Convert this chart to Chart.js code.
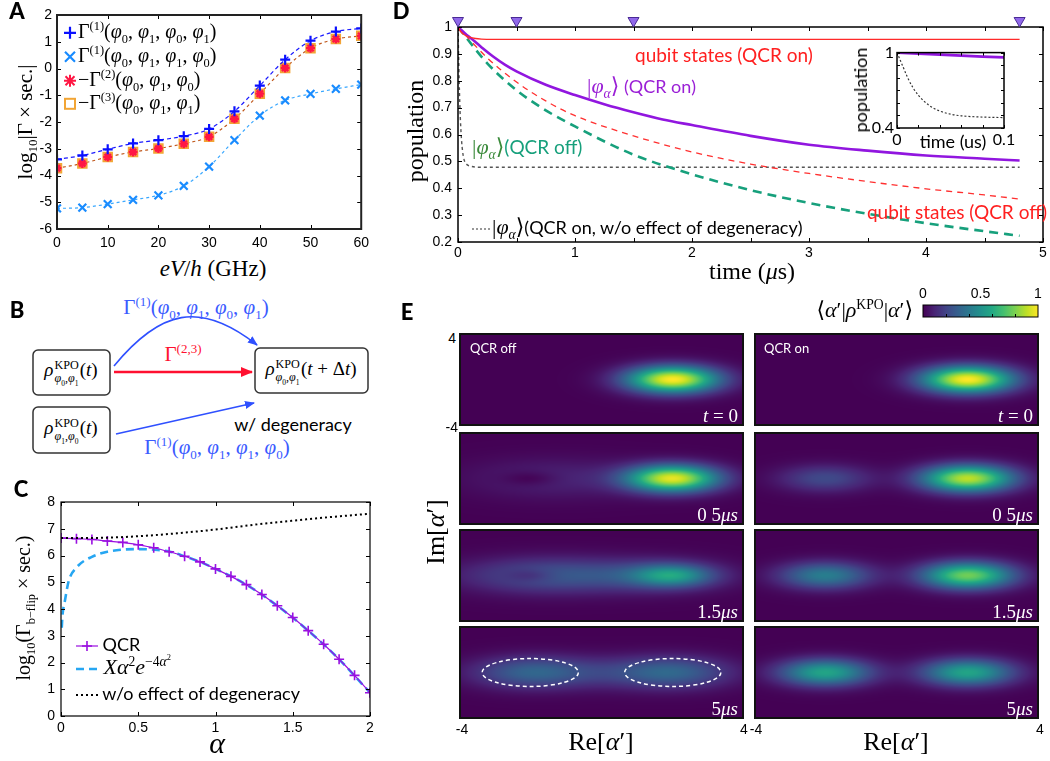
<!DOCTYPE html>
<html>
<head>
<meta charset="utf-8">
<script src="https://cdn.jsdelivr.net/npm/chart.js@4.4.0/dist/chart.umd.min.js"></script>
<style>
body { margin: 0; background: #fff; }
#fig { position: relative; width: 1050px; height: 761px; overflow: hidden; background: #fff; }
canvas { position: absolute; }
.t { position: absolute; white-space: nowrap; line-height: 1; }
.mth { font-family: 'Liberation Serif', 'DejaVu Serif', serif; }
.sans { font-family: Lato, 'Open Sans', sans-serif; }
.arial { font-family: 'Liberation Sans', Arial, sans-serif; font-size: 14px; }
.letter { font-family: Lato, sans-serif; font-weight: 900; font-size: 22px; }
sub, sup { font-size: 0.62em; line-height: 0; }
.ss { display: inline-flex; flex-direction: column; vertical-align: middle; font-size: 0.64em; line-height: 1.05; margin: 0 1px; }
</style>
</head>
<body>
<div id="fig">
  <svg id="diagB" width="420" height="180" style="position:absolute;left:0;top:290px">
    <defs>
      <marker id="hb" markerWidth="10" markerHeight="8" refX="9" refY="4" orient="auto" markerUnits="userSpaceOnUse">
        <path d="M0,0 L10,4 L0,8 z" fill="#2f50ff"/>
      </marker>
      <marker id="hr" markerWidth="12" markerHeight="10" refX="11" refY="5" orient="auto" markerUnits="userSpaceOnUse">
        <path d="M0,0 L12,5 L0,10 z" fill="#ff1030"/>
      </marker>
    </defs>
    <rect x="33" y="60" width="77" height="45" rx="5" fill="none" stroke="#333" stroke-width="1.5"/>
    <rect x="33" y="117" width="77" height="46" rx="5" fill="none" stroke="#333" stroke-width="1.5"/>
    <rect x="255" y="58" width="113" height="45" rx="5" fill="none" stroke="#333" stroke-width="1.5"/>
    <path d="M114,76 C160,20 200,10 257,55" fill="none" stroke="#2f50ff" stroke-width="1.6" marker-end="url(#hb)"/>
    <path d="M114,82 L252,82" fill="none" stroke="#ff1030" stroke-width="2.5" marker-end="url(#hr)"/>
    <path d="M116,144 L254,113" fill="none" stroke="#2f50ff" stroke-width="1.6" marker-end="url(#hb)"/>
  </svg>
</div>
<script>
// ---------- panel A : rates vs bias ----------
const biasGHz   = [0, 5, 10, 15, 20, 25, 30, 35, 40, 45, 50, 55, 60];
const gamma1Dir = [-3.40, -3.25, -3.02, -2.80, -2.68, -2.53, -2.26, -1.60, -0.64, 0.33, 1.04, 1.38, 1.50];
const gamma1Swp = [-5.23, -5.20, -5.07, -4.91, -4.74, -4.39, -3.67, -2.68, -1.76, -1.19, -0.95, -0.76, -0.60];
const negGamma2 = [-3.73, -3.55, -3.31, -3.12, -2.99, -2.81, -2.55, -1.88, -0.94, 0.02, 0.76, 1.10, 1.22];
const negGamma3 = [-3.73, -3.55, -3.31, -3.12, -2.99, -2.81, -2.55, -1.88, -0.94, 0.02, 0.76, 1.10, 1.22];

// ---------- panel C : bit-flip rate vs alpha ----------
const alphaQCR = [0, 0.1, 0.2, 0.3, 0.4, 0.5, 0.6, 0.7, 0.8, 0.9, 1.0, 1.1, 1.2, 1.3, 1.4, 1.5, 1.6, 1.7, 1.8, 1.9, 2.0];
const flipQCR  = [6.65, 6.63, 6.60, 6.54, 6.49, 6.40, 6.29, 6.14, 5.97, 5.76, 5.50, 5.22, 4.91, 4.54, 4.12, 3.68, 3.19, 2.68, 2.12, 1.52, 0.87];
const alphaFit = [0.005, 0.01, 0.022, 0.05, 0.1, 0.2, 0.3, 0.4, 0.5, 0.6, 0.7, 0.8, 0.9, 1.0, 1.2, 1.4, 1.6, 1.8, 2.0];
const flipFit  = [3.3, 3.8, 4.2, 5.05, 5.55, 5.95, 6.14, 6.22, 6.24, 6.22, 6.15, 5.97, 5.76, 5.50, 4.91, 4.12, 3.19, 2.12, 0.87];
const alphaNoDeg = [0, 0.25, 0.5, 0.75, 1.0, 1.25, 1.5, 1.75, 2.0];
const flipNoDeg  = [6.65, 6.66, 6.72, 6.83, 6.97, 7.15, 7.30, 7.44, 7.56];

// ---------- panel D : populations vs time ----------
const tQubitOn   = [0, 0.02, 0.05, 0.1, 0.15, 0.2, 0.3, 4.8];
const popQubitOn = [1, 0.985, 0.972, 0.962, 0.957, 0.955, 0.954, 0.954];
const tPhiOn   = [0, 0.02, 0.04, 0.06, 0.08, 0.1, 0.2, 0.3, 0.4, 0.5, 0.75, 1, 1.25, 1.5, 1.75, 2, 2.5, 3, 3.5, 4, 4.5, 4.8];
const popPhiOn = [1, 0.992, 0.984, 0.976, 0.968, 0.962, 0.925, 0.89, 0.86, 0.835, 0.785, 0.747, 0.713, 0.683, 0.656, 0.635, 0.595, 0.562, 0.54, 0.522, 0.51, 0.503];
const tOff        = [0, 0.25, 0.5, 0.75, 1, 1.5, 2, 2.5, 3, 3.5, 4, 4.5, 4.8];
const popQubitOff = [1, 0.885, 0.795, 0.725, 0.67, 0.595, 0.535, 0.49, 0.455, 0.425, 0.398, 0.375, 0.36];
const popPhiOff   = [1, 0.865, 0.765, 0.69, 0.63, 0.525, 0.452, 0.393, 0.345, 0.305, 0.27, 0.24, 0.223];
const tNoDeg   = [0, 0.005, 0.01, 0.015, 0.02, 0.03, 0.04, 0.05, 0.06, 0.08, 0.1, 0.2, 4.8];
const popNoDeg = [1, 0.9, 0.8, 0.72, 0.66, 0.58, 0.535, 0.51, 0.497, 0.487, 0.483, 0.478, 0.478];
const snapTimes = [0, 0.5, 1.5, 4.8];

// ---------- panel E : phase-space snapshots ----------
const snapLabels = ['<i>t</i> = 0', '0 5<i>μs</i>', '1.5<i>μs</i>', '5<i>μs</i>'];
// blobs: centre (x, y), peak amplitude a, widths sx, sy
const blobsQcrOff = [
  [{x: 2, y: 0, a: 1.0, sx: 0.9, sy: 0.8}],
  [{x: 2, y: 0, a: 0.95, sx: 0.9, sy: 0.8}, {x: -1.3, y: 0, a: 0.1, sx: 1.7, sy: 1.2}, {x: -2, y: 0, a: -0.08, sx: 0.55, sy: 0.45}],
  [{x: 2, y: 0, a: 0.38, sx: 0.75, sy: 0.65}, {x: 1.7, y: 0, a: 0.2, sx: 1.25, sy: 0.95}, {x: -1.4, y: 0, a: 0.27, sx: 1.7, sy: 1.05}, {x: -2, y: 0, a: -0.11, sx: 0.5, sy: 0.4}],
  [{x: -2, y: 0, a: 0.28, sx: 1.15, sy: 0.95}, {x: 2, y: 0, a: 0.29, sx: 1.15, sy: 0.95}, {x: 0, y: 0, a: 0.1, sx: 1.6, sy: 1.0}]
];
const blobsQcrOn = [
  [{x: 2, y: 0, a: 1.0, sx: 0.9, sy: 0.8}],
  [{x: -2, y: 0, a: 0.22, sx: 0.9, sy: 0.8}, {x: 2, y: 0, a: 0.9, sx: 0.9, sy: 0.8}],
  [{x: -2, y: 0, a: 0.42, sx: 0.9, sy: 0.8}, {x: 2, y: 0, a: 0.78, sx: 0.9, sy: 0.8}],
  [{x: -2, y: 0, a: 0.58, sx: 0.9, sy: 0.8}, {x: 2, y: 0, a: 0.58, sx: 0.9, sy: 0.8}]
];
const ringsQcrOff5us = [{x: -2, y: 0, rx: 1.35, ry: 1.2}, {x: 2, y: 0, rx: 1.35, ry: 1.2}];
const viridisStops = ['#440154', '#482475', '#414487', '#355f8d', '#2a788e', '#21918c', '#22a884', '#44bf70', '#7ad151', '#bddf26', '#fde725'];

Chart.defaults.font.family = "'Liberation Sans', Arial, sans-serif";
Chart.defaults.font.size = 14;
Chart.defaults.color = '#000';
Chart.defaults.animation = false;
Chart.defaults.responsive = false;
Chart.defaults.devicePixelRatio = 1;
Chart.defaults.events = [];
Chart.defaults.plugins.legend.display = false;
Chart.defaults.plugins.tooltip.enabled = false;

const fig = document.getElementById('fig');
const zip = (xs, ys) => xs.map((x, i) => ({x: x, y: ys[i]}));
const num = d => v => +v.toFixed(d);

function mkCanvas(left, top, w, h) {
  const c = document.createElement('canvas');
  c.width = w; c.height = h;
  c.style.left = left + 'px'; c.style.top = top + 'px';
  fig.appendChild(c);
  return c;
}
function put(html, x, y, cls, anchor, style) {
  const d = document.createElement('div');
  d.className = 't ' + (cls || '');
  d.innerHTML = html;
  d.style.left = x + 'px'; d.style.top = y + 'px';
  const tr = {l: 'translate(0,-50%)', c: 'translate(-50%,-50%)', r: 'translate(-100%,-50%)', v: 'translate(-50%,-50%) rotate(-90deg)'};
  d.style.transform = tr[anchor || 'c'];
  if (style) d.style.cssText += style;
  fig.appendChild(d);
  return d;
}

// box frame + inward ticks, matlab style
const framePlugin = {
  id: 'frame',
  afterDatasetsDraw(chart, args, o) {
    const {ctx, chartArea: a, scales} = chart;
    const L = o.len || 4;
    ctx.save();
    ctx.strokeStyle = '#000';
    ctx.lineWidth = 1;
    ctx.beginPath();
    scales.x.ticks.forEach(t => {
      const p = Math.round(scales.x.getPixelForValue(t.value)) + 0.5;
      ctx.moveTo(p, a.bottom); ctx.lineTo(p, a.bottom - L);
      ctx.moveTo(p, a.top); ctx.lineTo(p, a.top + L);
    });
    scales.y.ticks.forEach(t => {
      const p = Math.round(scales.y.getPixelForValue(t.value)) + 0.5;
      ctx.moveTo(a.left, p); ctx.lineTo(a.left + L, p);
      ctx.moveTo(a.right, p); ctx.lineTo(a.right - L, p);
    });
    ctx.stroke();
    ctx.lineWidth = o.width || 1.5;
    ctx.strokeStyle = o.color || '#000';
    ctx.strokeRect(a.left, a.top, a.right - a.left, a.bottom - a.top);
    ctx.restore();
  }
};

function axes(xmin, xmax, xstep, ymin, ymax, ystep, yW, xH, extra) {
  extra = extra || {};
  return {
    x: {type: 'linear', min: xmin, max: xmax, grid: {display: false, drawTicks: false}, border: {display: false},
        ticks: Object.assign({stepSize: xstep, padding: 5, autoSkip: false, maxRotation: 0}, extra.xt || {}),
        afterFit: s => { s.height = xH; }},
    y: {type: 'linear', min: ymin, max: ymax, grid: {display: false, drawTicks: false}, border: {display: false},
        ticks: Object.assign({stepSize: ystep, padding: 5, autoSkip: false}, extra.yt || {}),
        afterFit: s => { s.width = yW; }}
  };
}

// ---------- chart A ----------
new Chart(mkCanvas(0, 0, 375, 250), {
  type: 'scatter',
  data: {datasets: [
    {data: zip(biasGHz, gamma1Dir), showLine: true, borderColor: '#1a1aff', borderWidth: 1.2, borderDash: [4, 3],
     cubicInterpolationMode: 'monotone', pointStyle: 'cross', pointRadius: 5, pointBorderWidth: 2.2, pointBorderColor: '#0a10ff', order: 0},
    {data: zip(biasGHz, negGamma2), showLine: false, pointStyle: 'star', pointRadius: 4.5, pointBorderWidth: 2.4,
     pointBorderColor: '#ff1744', pointBackgroundColor: '#ff1744', order: 1},
    {data: zip(biasGHz, negGamma3), showLine: true, borderColor: '#c0581c', borderWidth: 1.2, borderDash: [3, 3],
     cubicInterpolationMode: 'monotone', pointStyle: 'rect', pointRadius: 6, pointBorderWidth: 2,
     pointBorderColor: '#f2a535', pointBackgroundColor: 'rgba(255,160,60,0.35)', order: 2},
    {data: zip(biasGHz, gamma1Swp), showLine: true, borderColor: '#3aa8ff', borderWidth: 1.2, borderDash: [3, 3],
     cubicInterpolationMode: 'monotone', pointStyle: 'crossRot', pointRadius: 5.5, pointBorderWidth: 2.2, pointBorderColor: '#1a8cff', order: 3}
  ]},
  options: {
    layout: {padding: {top: 15, right: 10, left: 0, bottom: 0}},
    scales: axes(0, 60, 10, -6, 2, 1, 57, 21, {xt: {padding: 6}}),
    plugins: {frame: {width: 2, color: '#222'}}
  },
  plugins: [framePlugin]
});

// ---------- chart C ----------
new Chart(mkCanvas(0, 470, 380, 266), {
  type: 'scatter',
  data: {datasets: [
    {data: zip(alphaNoDeg, flipNoDeg), showLine: true, borderColor: '#000', borderWidth: 2, borderDash: [2, 3],
     cubicInterpolationMode: 'monotone', pointRadius: 0, order: 0},
    {data: zip(alphaQCR, flipQCR), showLine: true, borderColor: '#9a10e0', borderWidth: 1.2,
     cubicInterpolationMode: 'monotone', pointStyle: 'cross', pointRadius: 5, pointBorderWidth: 1.6, order: 1},
    {data: zip(alphaFit, flipFit), showLine: true, borderColor: '#26a6f2', borderWidth: 2.6, borderDash: [8, 5],
     cubicInterpolationMode: 'monotone', pointRadius: 0, order: 2}
  ]},
  options: {
    layout: {padding: {top: 32, right: 10, left: 0, bottom: 0}},
    scales: axes(0, 2, 0.5, 0, 8, 1, 61, 20, {xt: {padding: 4, callback: num(1)}, yt: {padding: 6}}),
    plugins: {frame: {width: 1.2, color: '#000'}}
  },
  plugins: [framePlugin]
});

// ---------- chart D ----------
const snapPlugin = {
  id: 'snaps',
  afterDraw(chart) {
    const {ctx, chartArea: a, scales} = chart;
    ctx.save();
    ctx.fillStyle = '#9068ea';
    ctx.strokeStyle = '#4a2a96';
    ctx.lineWidth = 1;
    snapTimes.forEach(t => {
      const px = scales.x.getPixelForValue(t), py = a.top - 5;
      ctx.beginPath();
      ctx.moveTo(px - 5.5, py - 4.5); ctx.lineTo(px + 5.5, py - 4.5); ctx.lineTo(px, py + 5); ctx.closePath();
      ctx.fill(); ctx.stroke();
    });
    ctx.restore();
  }
};
const dLines = [
  {data: zip(tQubitOn, popQubitOn), showLine: true, borderColor: '#ff2a2a', borderWidth: 1.4, pointRadius: 0, cubicInterpolationMode: 'monotone'},
  {data: zip(tPhiOn, popPhiOn), showLine: true, borderColor: '#9116df', borderWidth: 2.6, pointRadius: 0, cubicInterpolationMode: 'monotone'},
  {data: zip(tOff, popQubitOff), showLine: true, borderColor: '#ff3030', borderWidth: 1.3, borderDash: [6, 5], pointRadius: 0, cubicInterpolationMode: 'monotone'},
  {data: zip(tOff, popPhiOff), showLine: true, borderColor: '#17a07c', borderWidth: 2.6, borderDash: [9, 6], pointRadius: 0, cubicInterpolationMode: 'monotone'},
  {data: zip(tNoDeg, popNoDeg), showLine: true, borderColor: '#555', borderWidth: 1.4, borderDash: [3, 3], pointRadius: 0, cubicInterpolationMode: 'monotone'}
];
new Chart(mkCanvas(400, 0, 650, 262), {
  type: 'scatter',
  data: {datasets: dLines},
  options: {
    layout: {padding: {top: 27, right: 7, left: 0, bottom: 0}},
    scales: axes(0, 5, 0.5, 0.2, 1, 0.1, 58, 20, {
      xt: {padding: 3, callback: v => Number.isInteger(v) ? v : ''},
      yt: {padding: 6, callback: num(1)}
    }),
    plugins: {frame: {width: 1.5, color: '#000'}}
  },
  plugins: [framePlugin, snapPlugin]
});

// inset of D
const insetBg = {id: 'insetBg', beforeDraw(chart) { const c = chart.ctx; c.save(); c.fillStyle = '#fff'; c.fillRect(chart.chartArea.left - 20, 0, chart.width, chart.height); c.restore(); }};
const ends = d => (v, i, ts) => (i === 0 || i === ts.length - 1) ? +v.toFixed(d) : '';
new Chart(mkCanvas(850, 40, 180, 110), {
  type: 'scatter',
  data: {datasets: [
    {data: zip(tPhiOn, popPhiOn), showLine: true, borderColor: '#9116df', borderWidth: 2.6, pointRadius: 0},
    {data: zip(tNoDeg, popNoDeg), showLine: true, borderColor: '#333', borderWidth: 1.2, borderDash: [2, 2], pointRadius: 0, cubicInterpolationMode: 'monotone'}
  ]},
  options: {
    layout: {padding: {top: 11, right: 26, left: 0, bottom: 0}},
    scales: axes(0, 0.1, 0.02, 0.4, 1, 0.1, 47, 22, {
      xt: {padding: 2, font: {family: 'Lato', size: 16}, callback: ends(2)},
      yt: {padding: 3, font: {family: 'Lato', size: 16}, callback: ends(1)}
    }),
    plugins: {frame: {width: 1.5, color: '#000', len: 3}}
  },
  plugins: [insetBg, framePlugin]
});

// ---------- panel E heatmaps ----------
const vir = viridisStops.map(h => [1, 3, 5].map(k => parseInt(h.substr(k, 2), 16)));
function viridis(v) {
  v = Math.min(1, Math.max(0, v));
  const n = vir.length - 1, f = v * n, i = Math.min(n - 1, Math.floor(f)), u = f - i;
  return [0, 1, 2].map(k => vir[i][k] + (vir[i + 1][k] - vir[i][k]) * u);
}
const fieldPlugin = {
  id: 'field',
  beforeDatasetsDraw(chart) {
    const {ctx, chartArea: a, scales} = chart;
    const blobs = chart.data.datasets[0].data;
    const w = Math.round(a.right - a.left), h = Math.round(a.bottom - a.top);
    const img = ctx.createImageData(w, h);
    const xv = [], yv = [];
    for (let i = 0; i < w; i++) xv.push(scales.x.getValueForPixel(a.left + i + 0.5));
    for (let j = 0; j < h; j++) yv.push(scales.y.getValueForPixel(a.top + j + 0.5));
    for (let j = 0; j < h; j++) {
      for (let i = 0; i < w; i++) {
        let v = 0;
        blobs.forEach(b => {
          const dx = (xv[i] - b.x) / b.sx, dy = (yv[j] - b.y) / b.sy;
          v += b.a * Math.exp(-0.5 * (dx * dx + dy * dy));
        });
        const c = viridis(v), k = 4 * (j * w + i);
        img.data[k] = c[0]; img.data[k + 1] = c[1]; img.data[k + 2] = c[2]; img.data[k + 3] = 255;
      }
    }
    ctx.putImageData(img, a.left, a.top);
  },
  afterDatasetsDraw(chart) {
    const {ctx, chartArea: a, scales} = chart;
    const rings = chart.data.datasets[1].data;
    ctx.save();
    ctx.strokeStyle = '#fff'; ctx.lineWidth = 1.5; ctx.setLineDash([4, 3]);
    rings.forEach(r => {
      const cx = scales.x.getPixelForValue(r.x), cy = scales.y.getPixelForValue(r.y);
      const rx = Math.abs(scales.x.getPixelForValue(r.x + r.rx) - cx), ry = Math.abs(scales.y.getPixelForValue(r.y + r.ry) - cy);
      ctx.beginPath(); ctx.ellipse(cx, cy, rx, ry, 0, 0, 2 * Math.PI); ctx.stroke();
    });
    ctx.setLineDash([]);
    ctx.strokeStyle = '#111'; ctx.lineWidth = 2;
    ctx.strokeRect(a.left + 1, a.top + 1, a.right - a.left - 2, a.bottom - a.top - 2);
    ctx.restore();
  }
};
const colLeft = [459, 754], colW = 285, rowTop = [333, 432, 529, 626], rowH = 93;
[blobsQcrOff, blobsQcrOn].forEach((col, c) => {
  col.forEach((blobs, r) => {
    const rings = (c === 0 && r === 3) ? ringsQcrOff5us : [];
    new Chart(mkCanvas(colLeft[c], rowTop[r], colW, rowH), {
      type: 'scatter',
      data: {datasets: [{data: blobs, pointRadius: 0}, {data: rings, pointRadius: 0}]},
      options: {
        layout: {padding: 0},
        scales: {x: {type: 'linear', min: -4, max: 4, display: false}, y: {type: 'linear', min: -4, max: 4, display: false}}
      },
      plugins: [fieldPlugin]
    });
    put(snapLabels[r], colLeft[c] + colW - 6, rowTop[r] + rowH - 11, 'mth', 'r', 'font-size:19px;color:#fff;');
  });
});

// colour bar
const cbarPlugin = {
  id: 'cbar',
  beforeDatasetsDraw(chart) {
    const {ctx, chartArea: a, scales} = chart;
    const g = ctx.createLinearGradient(a.left, 0, a.right, 0);
    viridisStops.forEach((c, i) => g.addColorStop(i / (viridisStops.length - 1), c));
    ctx.save();
    ctx.fillStyle = g;
    ctx.fillRect(a.left, a.top, a.right - a.left, a.bottom - a.top);
    ctx.strokeStyle = '#000'; ctx.lineWidth = 1;
    ctx.beginPath();
    [0.2, 0.4, 0.6, 0.8].forEach(v => { const p = Math.round(scales.x.getPixelForValue(v)) + 0.5; ctx.moveTo(p, a.bottom); ctx.lineTo(p, a.bottom - 3); });
    ctx.stroke();
    ctx.strokeRect(a.left, a.top, a.right - a.left, a.bottom - a.top);
    ctx.restore();
  }
};
new Chart(mkCanvas(910, 282, 140, 38), {
  type: 'scatter',
  data: {datasets: [{data: []}]},
  options: {
    layout: {padding: {left: 13, right: 12, top: 5, bottom: 3}},
    scales: {
      x: {type: 'linear', position: 'top', min: 0, max: 1, grid: {display: false, drawTicks: false}, border: {display: false},
          ticks: {stepSize: 0.5, padding: 2, autoSkip: false, maxRotation: 0, callback: num(1)}, afterFit: s => { s.height = 18; }},
      y: {type: 'linear', min: 0, max: 1, display: false}
    }
  },
  plugins: [cbarPlugin]
});

// ---------- texts ----------
const P = i => '<i>φ</i><sub>' + i + '</sub>';
const ket = '|<i>φ</i><sub><i>α</i></sub>⟩';
const rho = (a, b, arg) => '<i>ρ</i><span class="ss"><span>KPO</span><span>' + P(a) + ',' + P(b) + '</span></span>(' + arg + ')';

put('A', 17, 11, 'letter');
put('B', 17, 310, 'letter');
put('C', 21, 489, 'letter');
put('D', 401, 11, 'letter');
put('E', 407, 312, 'letter');

// A
put('log<sub>10</sub>|Γ × sec.|', 25, 122, 'mth', 'v', 'font-size:21px;');
put('<i>eV</i>/<i>h</i> (GHz)', 213, 268, 'mth', 'c', 'font-size:23px;');
const svgMark = {
  plus: '<svg width="14" height="14"><path d="M7,1 V13 M1,7 H13" stroke="#0a10ff" stroke-width="2.2"/></svg>',
  cross: '<svg width="14" height="14"><path d="M2,2 L12,12 M12,2 L2,12" stroke="#1a8cff" stroke-width="2.2"/></svg>',
  star: '<svg width="14" height="14"><path d="M7,1 V13 M1,7 H13 M2.5,2.5 L11.5,11.5 M11.5,2.5 L2.5,11.5" stroke="#ff1744" stroke-width="2"/></svg>',
  square: '<svg width="14" height="14"><rect x="2" y="2" width="10" height="10" fill="none" stroke="#f2a535" stroke-width="2"/></svg>'
};
const legA = [
  [svgMark.plus, 'Γ<sup>(1)</sup>(' + P(0) + ', ' + P(1) + ', ' + P(0) + ', ' + P(1) + ')', 32],
  [svgMark.cross, 'Γ<sup>(1)</sup>(' + P(0) + ', ' + P(1) + ', ' + P(1) + ', ' + P(0) + ')', 56],
  [svgMark.star, '−Γ<sup>(2)</sup>(' + P(0) + ', ' + P(1) + ', ' + P(0) + ')', 80],
  [svgMark.square, '−Γ<sup>(3)</sup>(' + P(0) + ', ' + P(1) + ', ' + P(1) + ')', 103]
];
legA.forEach(e => put('<span style="display:inline-block;vertical-align:middle;margin-right:1px">' + e[0] + '</span>' + e[1], 63, e[2], 'mth', 'l', 'font-size:20px;'));

// B
put('Γ<sup>(1)</sup>(' + P(0) + ', ' + P(1) + ', ' + P(0) + ', ' + P(1) + ')', 196, 307, 'mth', 'c', 'font-size:21px;color:#3b5bff;');
put('Γ<sup>(2,3)</sup>', 183, 354, 'mth', 'c', 'font-size:21px;color:#ff1030;');
put('w/ degeneracy', 293, 424, 'sans', 'c', 'font-size:18px;');
put('Γ<sup>(1)</sup>(' + P(0) + ', ' + P(1) + ', ' + P(1) + ', ' + P(0) + ')', 217, 447, 'mth', 'c', 'font-size:21px;color:#3b5bff;');
put(rho(0, 1, '<i>t</i>'), 71, 372, 'mth', 'c', 'font-size:19px;');
put(rho(1, 0, '<i>t</i>'), 71, 430, 'mth', 'c', 'font-size:19px;');
put(rho(0, 1, '<i>t</i> + Δ<i>t</i>'), 311, 371, 'mth', 'c', 'font-size:19px;');

// C
put('log<sub>10</sub>(Γ<sub>b−flip</sub> × sec.)', 23, 608, 'mth', 'v', 'font-size:20px;');
put('<i>α</i>', 217, 743, 'mth', 'c', 'font-size:30px;');
put('<svg width="22" height="12" style="vertical-align:middle"><path d="M0,6 H22" stroke="#9a10e0" stroke-width="1.2"/><path d="M11,1 V11 M6,6 H16" stroke="#9a10e0" stroke-width="1.6"/></svg> QCR', 76, 644, 'sans', 'l', 'font-size:18px;');
put('<svg width="22" height="12" style="vertical-align:middle"><path d="M0,6 H22" stroke="#26a6f2" stroke-width="2.6" stroke-dasharray="8,5"/></svg> <i>Xα</i><sup>2</sup><i>e</i><sup>−4<i>α</i><sup>2</sup></sup>', 76, 667, 'mth', 'l', 'font-size:22px;');
put('<svg width="22" height="12" style="vertical-align:middle"><path d="M0,6 H22" stroke="#000" stroke-width="2" stroke-dasharray="2,3"/></svg> w/o effect of degeneracy', 76, 693, 'sans', 'l', 'font-size:18px;');

// D
put('population', 415, 131, 'mth', 'v', 'font-size:24px;');
put('time (<i>μ</i>s)', 752, 271, 'mth', 'c', 'font-size:24px;');
put('qubit states (QCR on)', 635, 54, 'sans', 'l', 'font-size:19px;color:#ff2020;');
put('<span class="mth" style="font-size:22px">' + ket + '</span> (QCR on)', 587, 86, 'sans', 'l', 'font-size:18px;color:#9a1fd6;');
put('<span class="mth" style="font-size:22px;color:#3a8a3a">' + ket + '</span>(QCR off)', 472, 147, 'sans', 'l', 'font-size:19px;color:#17a07c;');
put('qubit states (QCR off)', 1047, 211, 'sans', 'r', 'font-size:19px;color:#ff2020;');
put('<svg width="20" height="10" style="vertical-align:middle"><path d="M0,5 H20" stroke="#333" stroke-width="1.2" stroke-dasharray="2,2"/></svg><span class="mth" style="font-size:22px">' + ket + '</span>(QCR on, w/o effect of degeneracy)', 472, 227, 'sans', 'l', 'font-size:18px;');
put('population', 860, 90, 'sans', 'v', 'font-size:18px;');
put('time (us)', 953, 141, 'sans', 'c', 'font-size:18px;');

// E
put('⟨<i>α</i>′|<i>ρ</i><sup>KPO</sup>|<i>α</i>′⟩', 913, 310, 'mth', 'r', 'font-size:22px;');
put('4', 456, 338, 'arial', 'r');
put('-4', 458, 427, 'arial', 'r');
put('-4', 462, 729, 'arial', 'c');
put('4', 744, 729, 'arial', 'c');
put('-4', 756, 729, 'arial', 'c');
put('4', 1040, 729, 'arial', 'c');
put('Re[<i>α</i>′]', 601, 742, 'mth', 'c', 'font-size:26px;');
put('Re[<i>α</i>′]', 896, 742, 'mth', 'c', 'font-size:26px;');
put('Im[<i>α</i>′]', 436, 532, 'mth', 'v', 'font-size:26px;');
put('QCR off', 470, 348, 'sans', 'l', 'font-size:13px;color:#fff;');
put('QCR on', 764, 348, 'sans', 'l', 'font-size:13px;color:#fff;');
</script>
</body>
</html>
